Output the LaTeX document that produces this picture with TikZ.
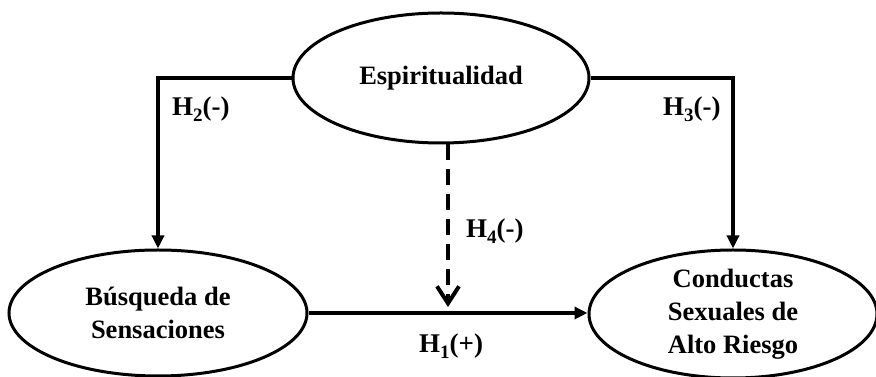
\documentclass[tikz,border=0pt]{standalone}
\usepackage{fontspec}
\setmainfont{Liberation Serif}
\usetikzlibrary{arrows.meta,shapes.geometric}
\begin{document}
\begin{tikzpicture}[x=1pt,y=1pt,
  oval/.style={ellipse,draw,line width=3pt,inner sep=0pt,align=center,
    font=\fontsize{26.5}{33}\selectfont\bfseries},
  hlabel/.style={anchor=base west,inner sep=0pt,font=\fontsize{27}{30}\selectfont\bfseries},
  conn/.style={line width=3.5pt,-{Triangle[length=13pt,width=12pt]}},
  modconn/.style={line width=4pt,dash pattern=on 16pt off 9pt,
    -{Straight Barb[length=17pt,width=22pt,line width=4pt]}}]
\useasboundingbox (0,0) rectangle (876,377);
\newcommand{\hsub}[1]{\raisebox{-6pt}{\fontsize{19}{19}\selectfont #1}}
\node[oval,minimum width=296pt,minimum height=130pt] (esp) at (441,299) {Espiritualidad};
\node[oval,minimum width=298pt,minimum height=126pt] (bus) at (158,64) {Búsqueda de\\Sensaciones};
\node[oval,minimum width=288pt,minimum height=128pt] (csr) at (733,63) {Conductas\\Sexuales de\\Alto Riesgo};
\coordinate (mod) at (448,70);
\draw[conn] (esp.west) -| (bus.north);
\draw[conn] (esp.east) -| (csr.north);
\draw[conn,line width=4.5pt] (bus.east) -- (csr.west |- bus.east);
\draw[modconn] (esp.south -| mod) -- (mod);
\node[hlabel] (h2) at (172,261) {H\hsub{2}(-)};
\node[hlabel] (h3) at (663,261) {H\hsub{3}(-)};
\node[hlabel] (h4) at (466,139) {H\hsub{4}(-)};
\node[hlabel] (h1) at (419,24) {H\hsub{1}(+)};
\end{tikzpicture}
\end{document}
